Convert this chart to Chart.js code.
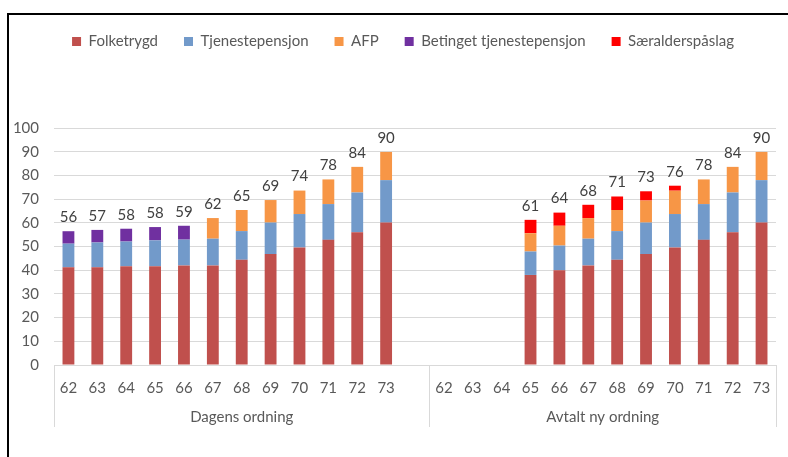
<!DOCTYPE html>
<html>
<head>
<meta charset="utf-8">
<script src="https://cdn.jsdelivr.net/npm/chart.js@4"></script>
<style>
  html, body { margin: 0; padding: 0; background: #fff; }
  #wrap { position: relative; width: 788px; height: 457px; overflow: hidden; }
  #frame { position: absolute; left: 7px; top: 13px; width: 800px; height: 500px;
           border-top: 2px solid #000; border-left: 2px solid #000; pointer-events: none; }
  canvas { position: absolute; left: 0; top: 0; }
</style>
</head>
<body>
<div id="wrap">
  <canvas id="c" width="788" height="457"></canvas>
  <div id="frame"></div>
</div>
<script>
// ---- Data ----
const categories = ['62','63','64','65','66','67','68','69','70','71','72','73','',
                    '62','63','64','65','66','67','68','69','70','71','72','73'];
const groupNames = ['Dagens ordning', 'Avtalt ny ordning'];
const groupSizes = [13, 12];

const folketrygd      = [41.2,41.2,41.7,41.7,42.0,42.0,44.4,46.8,49.6,52.8,56.0,60.1,null,
                         null,null,null,38.0,40.0,42.0,44.4,46.8,49.6,52.8,56.0,60.1];
const tjenestepensjon = [10.0,10.5,10.4,10.9,10.9,11.3,12.1,13.3,14.1,15.1,16.8,17.9,null,
                         null,null,null,9.9,10.4,11.3,12.1,13.3,14.1,15.1,16.8,17.9];
const afp             = [null,null,null,null,null,8.7,8.9,9.5,9.9,10.4,10.8,11.9,null,
                         null,null,null,7.7,8.35,8.7,8.9,9.3,9.85,10.4,10.8,11.9];
const betinget        = [5.25,5.3,5.4,5.6,5.85,null,null,null,null,null,null,null,null,
                         null,null,null,null,null,null,null,null,null,null,null,null];
const saeralder       = [null,null,null,null,null,null,null,null,null,null,null,null,null,
                         null,null,null,5.65,5.55,5.6,5.7,3.9,2.1,null,null,null];
const totals          = [56,57,58,58,59,62,65,69,74,78,84,90,null,
                         null,null,null,61,64,68,71,73,76,78,84,90];
const yTicks = [0,10,20,30,40,50,60,70,80,90,100];

const FONT = 'Lato, "Liberation Sans", sans-serif';
Chart.defaults.font.family = FONT;
Chart.defaults.font.size = 15;
Chart.defaults.color = '#595959';

const legendSpace = {
  id: 'legendSpace',
  beforeInit(chart) {
    const orig = chart.legend.fit;
    chart.legend.fit = function () { orig.bind(chart.legend)(); this.height += 69; };
  },
  afterLayout(chart) {
    chart.legend.left += 15;
    chart.legend.right += 15;
  }
};

const totalsPlugin = {
  id: 'totalsPlugin',
  afterDatasetsDraw(chart) {
    const ctx = chart.ctx, x = chart.scales.x, y = chart.scales.y;
    ctx.save();
    ctx.font = '15px ' + FONT;
    ctx.fillStyle = '#404040';
    ctx.textAlign = 'center';
    ctx.textBaseline = 'middle';
    totals.forEach((t, i) => {
      if (t == null) return;
      let sum = 0;
      chart.data.datasets.forEach(ds => { sum += ds.data[i] || 0; });
      ctx.fillText(String(t), x.getPixelForValue(i), y.getPixelForValue(sum) - 14);
    });
    ctx.restore();
  }
};

const groupAxis = {
  id: 'groupAxis',
  afterDraw(chart) {
    const ctx = chart.ctx, x = chart.scales.x, area = chart.chartArea;
    const step = x.getPixelForValue(1) - x.getPixelForValue(0);
    ctx.save();
    ctx.strokeStyle = '#D9D9D9';
    ctx.lineWidth = 1;
    ctx.font = '15px ' + FONT;
    ctx.fillStyle = '#595959';
    ctx.textAlign = 'center';
    ctx.textBaseline = 'middle';
    let start = 0;
    const bounds = [];
    groupSizes.forEach((n, g) => {
      const left = x.getPixelForValue(start) - step / 2;
      const right = x.getPixelForValue(start + n - 1) + step / 2;
      bounds.push(left, right);
      ctx.fillText(groupNames[g], (left + right) / 2, area.bottom + 52);
      start += n;
    });
    [...new Set(bounds.map(b => Math.round(b)))].forEach(b => {
      ctx.beginPath();
      ctx.moveTo(b + 0.5, area.bottom);
      ctx.lineTo(b + 0.5, area.bottom + 62);
      ctx.stroke();
    });
    ctx.restore();
  }
};

const mk = (label, data, color) => ({
  label, data, backgroundColor: color, borderWidth: 0,
  barPercentage: 0.41, categoryPercentage: 1.0
});

new Chart(document.getElementById('c'), {
  type: 'bar',
  data: {
    labels: categories,
    datasets: [
      mk('Folketrygd', folketrygd, '#C0504D'),
      mk('Tjenestepensjon', tjenestepensjon, '#729ACA'),
      mk('AFP', afp, '#F79646'),
      mk('Betinget tjenestepensjon', betinget, '#7030A0'),
      mk('Særalderspåslag', saeralder, '#FF0000')
    ]
  },
  options: {
    responsive: false,
    animation: false,
    layout: { padding: { left: 0, right: 12, top: 8, bottom: 0 } },
    plugins: {
      legend: {
        display: true,
        position: 'top',
        labels: { boxWidth: 9, boxHeight: 9, padding: 26, color: '#595959',
                  font: { size: 15, family: FONT } }
      },
      tooltip: { enabled: false }
    },
    scales: {
      x: {
        stacked: true,
        offset: true,
        grid: { display: false, drawTicks: false },
        border: { display: false },
        ticks: { padding: 14, color: '#595959', font: { size: 15 }, autoSkip: false, maxRotation: 0 },
        afterFit(s) { s.height = 92; }
      },
      y: {
        stacked: true,
        min: 0, max: 100,
        afterBuildTicks(s) { s.ticks = yTicks.map(v => ({ value: v })); },
        grid: { color: '#D9D9D9', drawTicks: false },
        border: { display: false },
        ticks: { padding: 15, color: '#595959', font: { size: 15 } },
        afterFit(s) { s.width = 54; }
      }
    }
  },
  plugins: [legendSpace, totalsPlugin, groupAxis]
});
</script>
</body>
</html>
